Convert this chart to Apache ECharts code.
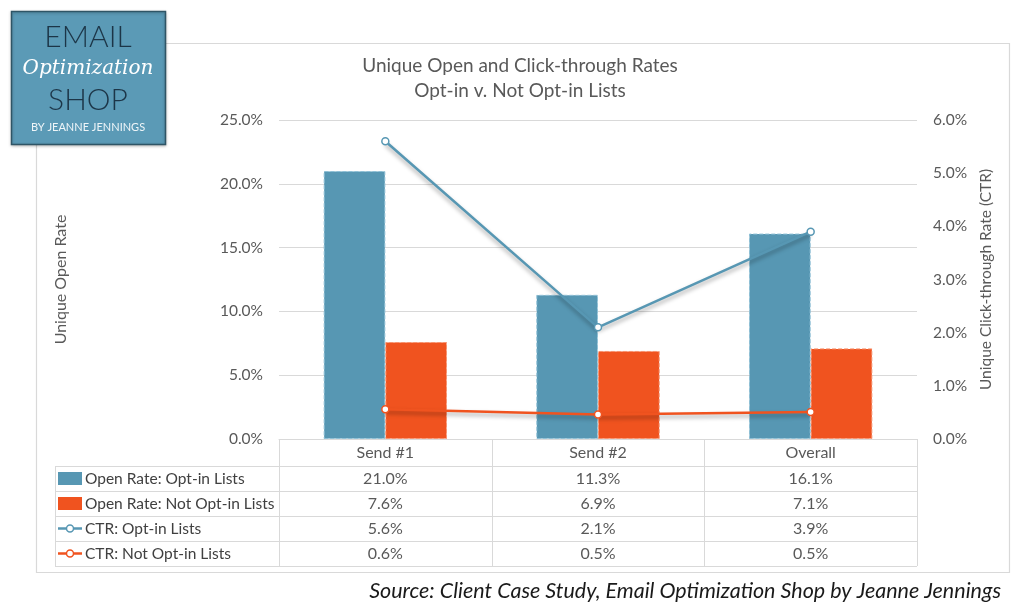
<!DOCTYPE html>
<html><head><meta charset="utf-8">
<script src="https://cdn.jsdelivr.net/npm/echarts@6/dist/echarts.min.js"></script>
<style>html,body{margin:0;padding:0;background:#fff}#c{width:1024px;height:612px}</style>
</head><body><div id="c"></div>
<script>
const categories = ['Send #1', 'Send #2', 'Overall'];
const openOptIn = [21.0, 11.3, 16.1];
const openNotOptIn = [7.6, 6.9, 7.1];
const ctrOptIn = [5.6, 2.1, 3.9];
const ctrNotOptIn = [0.56, 0.46, 0.51];
const leftTicks = [0, 5, 10, 15, 20, 25];
const rightTicks = [0, 1, 2, 3, 4, 5, 6];
const seriesNames = ['Open Rate: Opt-in Lists', 'Open Rate: Not Opt-in Lists', 'CTR: Opt-in Lists', 'CTR: Not Opt-in Lists'];

const BLUE = '#5797b3', ORANGE = '#f0531f', GRID = '#d9d9d9', TXT = '#595959';
const FONT = 'Lato, "Open Sans", sans-serif';
const chart = echarts.init(document.getElementById('c'));
const pct = v => v.toFixed(1) + '%';

chart.setOption({
  animation: false,
  textStyle: { fontFamily: FONT },
  title: {
    text: 'Unique Open and Click-through Rates\nOpt-in v. Not Opt-in Lists',
    left: 520, top: 53, padding: 0, textAlign: 'center',
    textStyle: { fontSize: 19, fontWeight: 'normal', color: TXT, lineHeight: 25, fontFamily: FONT }
  },
  grid: { left: 279, right: 107, top: 120, bottom: 173, containLabel: false },
  xAxis: {
    type: 'category', data: categories,
    axisLine: { show: true, lineStyle: { color: GRID } },
    axisTick: { show: false },
    axisLabel: { color: TXT, fontSize: 16, margin: 6, fontFamily: FONT }
  },
  yAxis: [{
    type: 'value', min: leftTicks[0], max: leftTicks[leftTicks.length - 1], interval: 5,
    name: 'Unique Open Rate', nameLocation: 'middle', nameRotate: 90, nameGap: 210,
    nameTextStyle: { color: TXT, fontSize: 16, fontFamily: FONT },
    axisLabel: { formatter: v => pct(v), color: TXT, fontSize: 15.5, margin: 16, fontFamily: FONT },
    axisLine: { show: false }, axisTick: { show: false },
    splitLine: { lineStyle: { color: GRID, width: 1 } }
  }, {
    type: 'value', min: rightTicks[0], max: rightTicks[rightTicks.length - 1], interval: 1,
    name: 'Unique Click-through Rate (CTR)', nameLocation: 'middle', nameRotate: 90, nameGap: 60,
    nameTextStyle: { color: TXT, fontSize: 15.5, fontFamily: FONT },
    axisLabel: { formatter: v => pct(v), color: TXT, fontSize: 15.5, margin: 16, fontFamily: FONT },
    axisLine: { show: false }, axisTick: { show: false }, splitLine: { show: false }
  }],
  series: [
    { name: seriesNames[0], type: 'bar', data: openOptIn, barGap: '0%', barCategoryGap: '42%',
      itemStyle: { color: BLUE, borderColor: '#8fc0d6', borderWidth: 1, borderType: 'dashed' } },
    { name: seriesNames[1], type: 'bar', data: openNotOptIn,
      itemStyle: { color: ORANGE, borderColor: '#f7936f', borderWidth: 1, borderType: 'dashed' } },
    { name: seriesNames[2], type: 'line', yAxisIndex: 1, data: ctrOptIn,
      symbol: 'circle', symbolSize: 7,
      lineStyle: { color: BLUE, width: 2.5, shadowColor: 'rgba(0,0,0,0.35)', shadowBlur: 4, shadowOffsetY: 3 },
      itemStyle: { color: '#fff', borderColor: BLUE, borderWidth: 1.5 } },
    { name: seriesNames[3], type: 'line', yAxisIndex: 1, data: ctrNotOptIn,
      symbol: 'circle', symbolSize: 7,
      lineStyle: { color: ORANGE, width: 2.5, shadowColor: 'rgba(0,0,0,0.35)', shadowBlur: 4, shadowOffsetY: 3 },
      itemStyle: { color: '#fff', borderColor: ORANGE, borderWidth: 1.5 } }
  ]
});

// Build data table and decorations from axis positions
const xs = categories.map(c => chart.convertToPixel({ xAxisIndex: 0 }, c));
const colW = xs[1] - xs[0];
const plotL = xs[0] - colW / 2, plotR = xs[xs.length - 1] + colW / 2;
const y0 = chart.convertToPixel({ yAxisIndex: 0 }, 0);
const headH = 27, rowH = 25, tableL = 55;
const rowsTop = y0 + headH;
const tableBottom = rowsTop + rowH * 4;
const lineStyle = { stroke: GRID, lineWidth: 1 };
const g = [];
// outer chart border
g.push({ type: 'rect', shape: { x: 36.5, y: 43.5, width: 973, height: 529 }, style: { fill: 'none', stroke: GRID, lineWidth: 1.2 }, z: 0 });
// horizontal table lines
for (let i = 0; i <= 4; i++) {
  const y = Math.round(rowsTop + i * rowH) + 0.5;
  g.push({ type: 'line', shape: { x1: tableL, y1: y, x2: plotR, y2: y }, style: lineStyle });
}
// vertical table lines
g.push({ type: 'line', shape: { x1: tableL + 0.5, y1: rowsTop, x2: tableL + 0.5, y2: tableBottom }, style: lineStyle });
for (let i = 0; i <= categories.length; i++) {
  const x = Math.round(plotL + i * colW) + 0.5;
  g.push({ type: 'line', shape: { x1: x, y1: y0, x2: x, y2: tableBottom }, style: lineStyle });
}
const tableData = [openOptIn, openNotOptIn, ctrOptIn, ctrNotOptIn];
const colors = [BLUE, ORANGE, BLUE, ORANGE];
tableData.forEach((arr, r) => {
  const cy = rowsTop + r * rowH + rowH / 2;
  // legend icon
  if (r < 2) {
    g.push({ type: 'rect', shape: { x: 58, y: cy - 6.5, width: 24, height: 13 }, style: { fill: colors[r] } });
  } else {
    g.push({ type: 'line', shape: { x1: 58, y1: cy, x2: 82, y2: cy }, style: { stroke: colors[r], lineWidth: 2.5 } });
    g.push({ type: 'circle', shape: { cx: 70, cy: cy, r: 3.5 }, style: { fill: '#fff', stroke: colors[r], lineWidth: 1.5 } });
  }
  g.push({ type: 'text', x: 85, y: cy, style: { text: seriesNames[r], fill: '#404040', font: '15.5px ' + FONT, textVerticalAlign: 'middle', textAlign: 'left' } });
  arr.forEach((v, c) => {
    g.push({ type: 'text', x: xs[c], y: cy, style: { text: pct(v), fill: TXT, font: '16px ' + FONT, textAlign: 'center', textVerticalAlign: 'middle' } });
  });
});
// source note
g.push({ type: 'text', x: 1001, y: 591, style: { text: 'Source: Client Case Study, Email Optimization Shop by Jeanne Jennings', fill: '#1a1a1a', font: 'italic 21.5px ' + FONT, textAlign: 'right', textVerticalAlign: 'middle' } });
// logo
g.push({ type: 'rect', shape: { x: 11.5, y: 11.5, width: 154, height: 133 }, style: { fill: '#5b9ab6', stroke: '#2f5566', lineWidth: 1.5, shadowColor: 'rgba(0,0,0,0.25)', shadowBlur: 3, shadowOffsetY: 1 }, z: 10 });
g.push({ type: 'text', x: 88, y: 37, z: 11, style: { text: 'EMAIL', fill: '#1c3547', font: '300 30px Lato, sans-serif', textAlign: 'center', textVerticalAlign: 'middle' } });
g.push({ type: 'text', x: 88, y: 69, z: 11, style: { text: 'Optimization', fill: '#ffffff', font: 'italic 20px "DejaVu Serif", serif', textAlign: 'center', textVerticalAlign: 'middle' } });
g.push({ type: 'text', x: 88, y: 100, z: 11, style: { text: 'SHOP', fill: '#1c3547', font: '300 30px Lato, sans-serif', textAlign: 'center', textVerticalAlign: 'middle' } });
g.push({ type: 'text', x: 88, y: 127, z: 11, style: { text: 'BY JEANNE JENNINGS', fill: '#eef5f8', font: '11px Lato, sans-serif', textAlign: 'center', textVerticalAlign: 'middle' } });
chart.setOption({ graphic: g });
</script>
</body></html>
